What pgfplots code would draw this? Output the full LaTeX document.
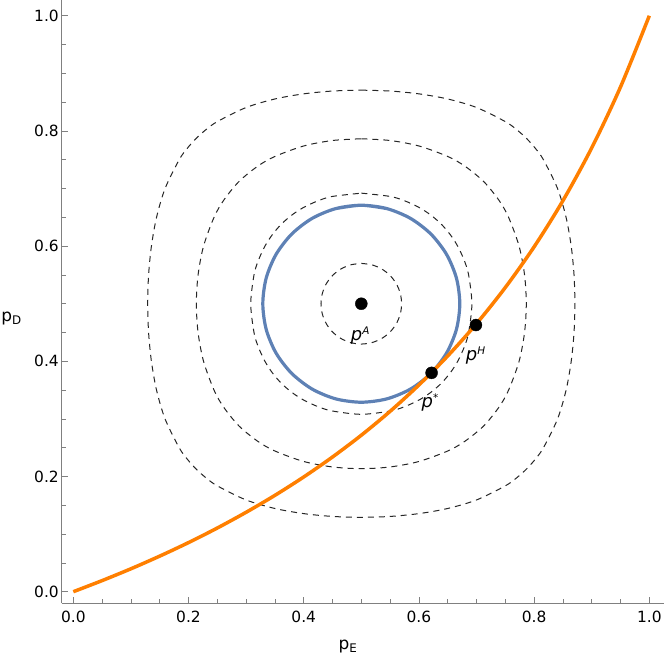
\documentclass[border=0pt]{standalone}
\usepackage{fontspec}
\setmainfont{DejaVu Sans}
\usepackage{pgfplots}
\pgfplotsset{compat=1.18}
\definecolor{mmaorange}{RGB}{255,127,0}
\definecolor{mmablue}{RGB}{94,129,181}
\definecolor{axgray}{RGB}{128,128,128}
\newcommand{\plab}[1]{\textit{p}\raisebox{6bp}{\fontsize{10.5}{12}\selectfont\textit{#1}}}

\begin{document}
\begin{tikzpicture}
\begin{axis}[scale only axis,width=602.5bp,height=602.8bp,
  xmin=-0.0205,xmax=1.0255,ymin=-0.0196,ymax=1.027,
  axis lines=left,axis line style={-,axgray,line width=0.8bp},
  xtick={0,0.2,0.4,0.6,0.8,1},ytick={0,0.2,0.4,0.6,0.8,1},minor tick num=3,
  tick align=inside,major tick length=6.5bp,minor tick length=4.5bp,
  every tick/.style={axgray,line width=0.8bp},
  /pgf/number format/fixed,/pgf/number format/fixed zerofill,
  /pgf/number format/precision=1,/pgf/number format/assume math mode=true,
  ticklabel style={font=\fontsize{15.5}{18}\selectfont},
  xticklabel style={yshift=-4.5bp},
  yticklabel style={inner sep=2.5bp},
  clip=false]
% level curves (dashed)
\addplot[black!85,line width=1bp,dash pattern=on 6bp off 5bp,smooth] coordinates {
  (0.5,0.8708) (0.55,0.8693) (0.60,0.8644) (0.65,0.8555) (0.70,0.8407) (0.75,0.8162) (0.77,0.8020) (0.7869,0.7869)
  (0.8020,0.77) (0.8162,0.75) (0.8407,0.70) (0.8555,0.65) (0.8644,0.60) (0.8693,0.55) (0.8708,0.5)
  (0.8693,0.45) (0.8644,0.40) (0.8555,0.35) (0.8407,0.30) (0.8162,0.25) (0.8020,0.23) (0.7869,0.2131)
  (0.77,0.1980) (0.75,0.1838) (0.70,0.1593) (0.65,0.1445) (0.60,0.1356) (0.55,0.1307) (0.5,0.1292)
  (0.45,0.1307) (0.40,0.1356) (0.35,0.1445) (0.30,0.1593) (0.25,0.1838) (0.23,0.1980) (0.2131,0.2131)
  (0.1980,0.23) (0.1838,0.25) (0.1593,0.30) (0.1445,0.35) (0.1356,0.40) (0.1307,0.45) (0.1292,0.5)
  (0.1307,0.55) (0.1356,0.60) (0.1445,0.65) (0.1593,0.70) (0.1838,0.75) (0.1980,0.77) (0.2131,0.7869)
  (0.23,0.8020) (0.25,0.8162) (0.30,0.8407) (0.35,0.8555) (0.40,0.8644) (0.45,0.8693) (0.5,0.8708)};
\addplot[black!85,line width=1bp,dash pattern=on 6bp off 5bp,smooth] coordinates {
  (0.5,0.7864) (0.55,0.7834) (0.60,0.7739) (0.65,0.7557) (0.68,0.7387) (0.7123,0.7123) (0.7387,0.68)
  (0.7557,0.65) (0.7739,0.60) (0.7834,0.55) (0.7864,0.5)
  (0.7834,0.45) (0.7739,0.40) (0.7557,0.35) (0.7387,0.32) (0.7123,0.2877) (0.68,0.2613) (0.65,0.2443)
  (0.60,0.2261) (0.55,0.2166) (0.5,0.2136)
  (0.45,0.2166) (0.40,0.2261) (0.35,0.2443) (0.32,0.2613) (0.2877,0.2877) (0.2613,0.32) (0.2443,0.35)
  (0.2261,0.40) (0.2166,0.45) (0.2136,0.5)
  (0.2166,0.55) (0.2261,0.60) (0.2443,0.65) (0.2613,0.68) (0.2877,0.7123) (0.32,0.7387) (0.35,0.7557)
  (0.40,0.7739) (0.45,0.7834) (0.5,0.7864)};
\addplot[black!85,line width=1bp,dash pattern=on 6bp off 5bp,smooth] coordinates {
  (0.5,0.692) (0.55,0.6863) (0.575,0.6788) (0.60,0.6673) (0.62,0.6544) (0.6385,0.6385) (0.6544,0.62)
  (0.6673,0.60) (0.6788,0.575) (0.6863,0.55) (0.692,0.5)
  (0.6863,0.45) (0.6788,0.425) (0.6673,0.40) (0.6544,0.38) (0.6385,0.3615) (0.62,0.3456) (0.60,0.3327)
  (0.575,0.3212) (0.55,0.3137) (0.5,0.308)
  (0.45,0.3137) (0.425,0.3212) (0.40,0.3327) (0.38,0.3456) (0.3615,0.3615) (0.3456,0.38) (0.3327,0.40)
  (0.3212,0.425) (0.3137,0.45) (0.308,0.5)
  (0.3137,0.55) (0.3212,0.575) (0.3327,0.60) (0.3456,0.62) (0.3615,0.6385) (0.38,0.6544) (0.40,0.6673)
  (0.425,0.6788) (0.45,0.6863) (0.5,0.692)};
\addplot[black!85,line width=1bp,dash pattern=on 6bp off 5bp,smooth] coordinates {
  (0.5,0.57) (0.5181,0.5676) (0.535,0.5606) (0.5495,0.5495) (0.5606,0.535) (0.5676,0.5181) (0.57,0.5)
  (0.5676,0.4819) (0.5606,0.465) (0.5495,0.4505) (0.535,0.4394) (0.5181,0.4324) (0.5,0.43)
  (0.4819,0.4324) (0.465,0.4394) (0.4505,0.4505) (0.4394,0.465) (0.4324,0.4819) (0.43,0.5)
  (0.4324,0.5181) (0.4394,0.535) (0.4505,0.5495) (0.465,0.5606) (0.4819,0.5676) (0.5,0.57)};
% blue circle
\addplot[mmablue,line width=3.2bp,smooth] coordinates {
  (0.4557,0.6652) (0.5,0.671) (0.5443,0.6652) (0.5855,0.6481) (0.6209,0.6209) (0.6481,0.5855)
  (0.6652,0.5443) (0.671,0.5) (0.6652,0.4557) (0.6481,0.4145) (0.6209,0.3791) (0.5855,0.3519)
  (0.5443,0.3348) (0.5,0.329) (0.4557,0.3348) (0.4145,0.3519) (0.3791,0.3791) (0.3519,0.4145)
  (0.3348,0.4557) (0.329,0.5) (0.3348,0.5443) (0.3519,0.5855) (0.3791,0.6209) (0.4145,0.6481)
  (0.4557,0.6652) (0.5,0.671) (0.5443,0.6652)};
% orange curve
\addplot[mmaorange,line width=3.5bp,smooth] coordinates {
  (0,0) (0.05,0.0193) (0.10,0.0398) (0.15,0.0618) (0.20,0.0853) (0.25,0.1106) (0.30,0.1379)
  (0.35,0.1673) (0.40,0.1992) (0.45,0.2339) (0.50,0.2717) (0.55,0.3132) (0.60,0.3589)
  (0.65,0.4093) (0.70,0.4654) (0.75,0.5282) (0.80,0.5988) (0.85,0.6789) (0.90,0.7706)
  (0.95,0.8764) (1,1)};
% points
\addplot[only marks,mark=*,mark size=6bp,black] coordinates {(0.5,0.5) (0.622,0.380) (0.699,0.463)};
\node[font=\fontsize{18}{20}\selectfont] at (axis cs:0.498,0.445) {\plab{A}};
\node[font=\fontsize{18}{20}\selectfont] at (axis cs:0.6984,0.4092) {\plab{H}};
\node[font=\fontsize{18}{20}\selectfont] at (axis cs:0.6193,0.3288) {\plab{*}};
\node[font=\fontsize{17}{20}\selectfont] at (axis cs:-0.107,0.474) {p\textsubscript{D}};
\node[font=\fontsize{17}{20}\selectfont] at (axis cs:0.477,-0.0955) {p\textsubscript{E}};
\end{axis}
\pgfresetboundingbox
\path[use as bounding box] (-61.5bp,-57bp) rectangle (602.5bp,603bp);
\end{tikzpicture}
\end{document}
